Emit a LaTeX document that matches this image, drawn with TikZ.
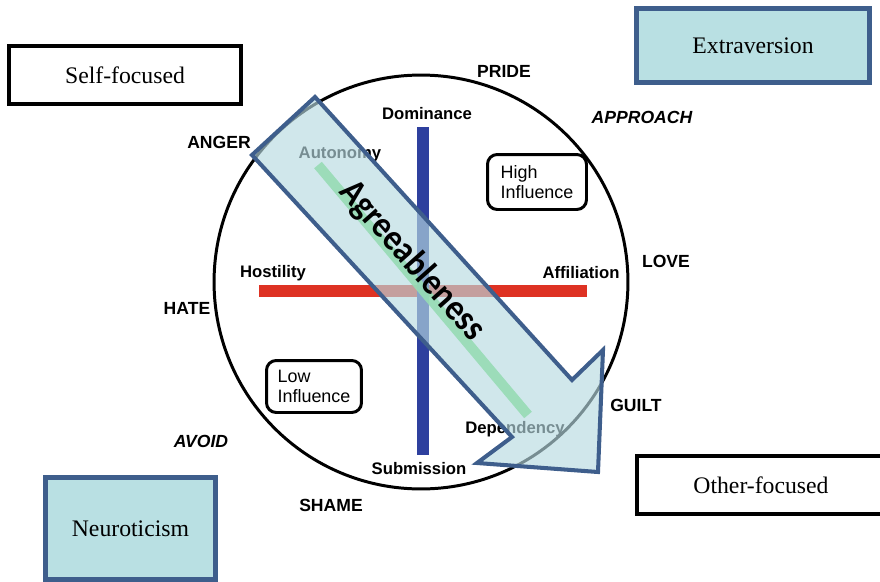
\documentclass[tikz,border=0pt]{standalone}
\usepackage{fontspec}
\setmainfont{Liberation Serif}
\setsansfont{Liberation Sans}
\newfontfamily\agreefont{Carlito}
\definecolor{traitedge}{RGB}{62,94,140}
\definecolor{traitfill}{RGB}{185,224,227}
\definecolor{axisblue}{RGB}{46,64,158}
\definecolor{axisred}{RGB}{222,50,35}
\definecolor{axisgreen}{RGB}{150,220,180}
\definecolor{arrowfill}{RGB}{183,218,225}
\tikzset{
    x=0.02cm, y=-0.02cm,
    emotion/.style={font=\sffamily\bfseries\fontsize{10}{12}\selectfont},
    tendency/.style={font=\sffamily\bfseries\itshape\fontsize{10}{12}\selectfont},
    pole/.style={font=\sffamily\bfseries\fontsize{9.5}{11}\selectfont},
    trait/.style={draw=traitedge, fill=traitfill, line width=2.8pt, font=\fontsize{13.5}{16}\selectfont},
    focus/.style={draw, line width=2.3pt, font=\fontsize{13.5}{16}\selectfont},
    influence/.style={draw, line width=1.7pt, rounded corners=5.5pt, align=left, inner sep=0pt,
        font=\sffamily\fontsize{10.2}{11.4}\selectfont},
    axis/.style={line width=6.5pt},
}

\begin{document}
\begin{tikzpicture}
    \useasboundingbox (0,0) rectangle (880,582);

    \node[focus, minimum width=4.64cm, minimum height=1.16cm] (self) at (125,75) {Self-focused};
    \node[trait, minimum width=4.66cm, minimum height=1.48cm] (extra) at (753,45.5) {Extraversion};
    \node[trait, minimum width=3.4cm, minimum height=2.04cm] (neuro) at (130.5,528.5) {Neuroticism};
    \node[focus, minimum width=4.96cm, minimum height=1.16cm] (other) at (761,485) {Other-focused};

    \node[circle, draw, line width=1.7pt, minimum size=8.28cm, inner sep=0pt] (wheel) at (421,282) {};

    \coordinate (dom) at (423,127);
    \coordinate (sub) at (423,455);
    \coordinate (hos) at (259,291);
    \coordinate (aff) at (587,291);
    \draw[axis, axisred] (hos) -- (aff);
    \draw[axis, axisblue] (dom) -- (sub);

    \node[pole] (domlabel) at (427,114) {Dominance};
    \node[pole] (sublabel) at (419,469) {Submission};
    \node[pole] (hoslabel) at (273,273) {Hostility};
    \node[pole] (afflabel) at (581,273) {Affiliation};
    \node[pole] (autlabel) at (340,154) {Autonomy};
    \node[pole] (deplabel) at (515,429) {Dependency};

    \node[emotion] (pride) at (504,71) {PRIDE};
    \node[tendency] (approach) at (642,117) {APPROACH};
    \node[emotion] (anger) at (219,142) {ANGER};
    \node[emotion] (love) at (666,261) {LOVE};
    \node[emotion] (hate) at (187,308) {HATE};
    \node[emotion] (guilt) at (636,405) {GUILT};
    \node[tendency] (avoid) at (201,441) {AVOID};
    \node[emotion] (shame) at (331,505) {SHAME};

    \node[influence, minimum width=1.98cm, minimum height=1.1cm] (high) at (537,182) {High\\Influence};
    \node[influence, minimum width=1.9cm, minimum height=1.04cm] (low) at (314,386.5) {Low\\Influence};

    \draw[traitedge, line width=2.3pt, fill=arrowfill, fill opacity=0.65]
        (252,155) -- (315,97) -- (572,380) -- (603,350) -- (598,472) -- (477,463) -- (512,437) -- cycle;

    \coordinate (autend) at (318,165);
    \coordinate (depend) at (528,415);
    \draw[axisgreen, line width=5.7pt, opacity=0.9] (autend) -- (depend);

    \node[font=\agreefont\bfseries\fontsize{21}{23}\selectfont, rotate=-48.5, xscale=0.9] (agree) at (412,261) {Agreeableness};
\end{tikzpicture}
\end{document}
